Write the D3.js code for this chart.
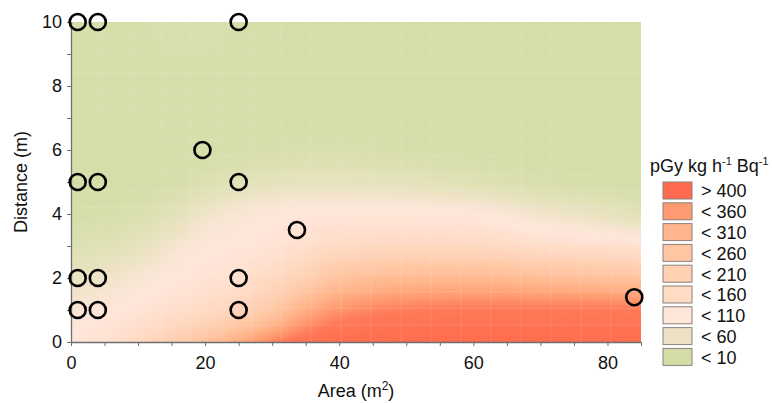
<!DOCTYPE html>
<meta charset="utf-8">
<script src="https://d3js.org/d3.v7.min.js"></script>
<style>
body { margin: 0; background: #fff; }
text { font-family: "Liberation Sans", Arial, sans-serif; fill: #111; }
</style>
<div id="chart"></div>
<script>
// measurement points (circles)
var ptArea = [1, 4, 25, 19.6, 1, 4, 25, 33.7, 1, 4, 25, 1, 4, 25, 84];
var ptDist = [10, 10, 10, 6, 5, 5, 5, 3.5, 2, 2, 2, 1, 1, 1, 1.4];

// fitted surface: one row per area value, columns = distance 0..10
var gridArea = [0, 5, 10, 15, 20, 25, 30, 35, 40, 50, 60, 70, 80, 85];
var gridDist = [0, 1, 2, 3, 4, 5, 6, 7, 8, 9, 10];
var doseGrid = [
  [110, 85, 50, 20, 6, 3, 4, 6, 6, 7, 8],
  [135, 100, 62, 28, 9, 4, 5, 6, 7, 8, 9],
  [170, 120, 82, 42, 15, 6, 5, 6, 7, 8, 9],
  [215, 145, 105, 72, 32, 9, 6, 7, 8, 9, 10],
  [265, 165, 125, 100, 65, 18, 7, 8, 8, 9, 10],
  [325, 195, 140, 112, 85, 30, 9, 7, 7, 8, 9],
  [385, 245, 170, 125, 100, 40, 10, 6, 6, 6, 7],
  [425, 320, 210, 145, 108, 45, 12, 5, 5, 5, 5],
  [448, 365, 260, 165, 112, 45, 12, 4, 4, 4, 4],
  [458, 395, 288, 175, 112, 38, 9, 3, 3, 3, 3],
  [460, 402, 293, 172, 105, 25, 6, 3, 3, 3, 3],
  [458, 402, 280, 152, 70, 12, 4, 3, 3, 3, 3],
  [455, 400, 268, 142, 45, 7, 3, 3, 3, 3, 3],
  [452, 398, 258, 132, 30, 5, 3, 3, 3, 3, 3]
];

// colour ramp
var rampValues = [0, 10, 35, 60, 85, 110, 160, 210, 260, 310, 360, 400, 460];
var rampColors = ["#d2dba4", "#d8dfac", "#e4e2ba", "#eee3c6", "#f9e5d4", "#ffe6da", "#ffdbc6",
                  "#ffd0b3", "#ffc4a0", "#ffb48a", "#ff9a70", "#ff7a58", "#ff6c4e"];

// legend
var legendLabels = ["> 400", "< 360", "< 310", "< 260", "< 210", "< 160", "< 110", "< 60", "< 10"];
var legendColors = ["#ff6a4e", "#ff9a72", "#ffb58e", "#ffc6a3", "#ffd0b2", "#ffdbc4", "#ffe6da", "#ede3c4", "#d4dda6"];

var W = 772, H = 403;
var x = d3.scaleLinear().domain([0, 85]).range([71, 641]);
var y = d3.scaleLinear().domain([0, 10]).range([342, 22]);
var color = d3.scaleLinear().domain(rampValues).range(rampColors).clamp(true);

var svg = d3.select("#chart").append("svg")
  .attr("width", W).attr("height", H);

svg.append("clipPath").attr("id", "plotclip")
  .append("rect")
  .attr("x", x(0)).attr("y", y(10))
  .attr("width", x(85) - x(0)).attr("height", y(0) - y(10));

// monotone cubic (Fritsch-Carlson) so the surface does not overshoot
function monotone(xs, ys) {
  var n = xs.length, d = [], m = [];
  for (var i = 0; i < n - 1; i++) d[i] = (ys[i + 1] - ys[i]) / (xs[i + 1] - xs[i]);
  m[0] = d[0]; m[n - 1] = d[n - 2];
  for (var i = 1; i < n - 1; i++) {
    if (d[i - 1] * d[i] <= 0) { m[i] = 0; continue; }
    var h0 = xs[i] - xs[i - 1], h1 = xs[i + 1] - xs[i];
    var w1 = 2 * h1 + h0, w2 = h1 + 2 * h0;
    m[i] = (w1 + w2) / (w1 / d[i - 1] + w2 / d[i]);
  }
  return function(v) {
    var i = d3.bisectRight(xs, v) - 1;
    if (i < 0) i = 0;
    if (i > n - 2) i = n - 2;
    var h = xs[i + 1] - xs[i], t = (v - xs[i]) / h;
    var t2 = t * t, t3 = t2 * t;
    return (2 * t3 - 3 * t2 + 1) * ys[i] + (t3 - 2 * t2 + t) * h * m[i]
         + (-2 * t3 + 3 * t2) * ys[i + 1] + (t3 - t2) * h * m[i + 1];
  };
}

// resample the grid finely
var dx = 0.5, dy = 0.05;
var nx = Math.round(85 / dx) + 1, ny = Math.round(10 / dy) + 1;
var colFine = doseGrid.map(function(col) {
  var f = monotone(gridDist, col);
  return d3.range(ny).map(function(j) { return f(j * dy); });
});
var values = new Array(nx * ny);
for (var j = 0; j < ny; j++) {
  var f = monotone(gridArea, colFine.map(function(c) { return c[j]; }));
  for (var i = 0; i < nx; i++) values[j * nx + i] = f(i * dx);
}

var thresholds = d3.range(0, 466, 3);
var contours = d3.contours().size([nx, ny]).thresholds(thresholds)(values);

var proj = d3.geoTransform({
  point: function(gx, gy) {
    this.stream.point(x((gx - 0.5) * dx), y((gy - 0.5) * dy));
  }
});

var plot = svg.append("g").attr("clip-path", "url(#plotclip)");
plot.selectAll("path.band")
  .data(contours)
  .enter().append("path")
  .attr("class", "band")
  .attr("d", d3.geoPath(proj))
  .attr("fill", function(d) { return color(d.value + 1.5); });

// faint mesh lines of the original rendering
var mesh = plot.append("g").attr("stroke", "#fff").attr("stroke-opacity", 0.16).attr("stroke-width", 0.8);
d3.range(1, 19).forEach(function(k) {
  mesh.append("line").attr("x1", x(85 * k / 19)).attr("x2", x(85 * k / 19))
    .attr("y1", y(0)).attr("y2", y(10));
  mesh.append("line").attr("x1", x(0)).attr("x2", x(85))
    .attr("y1", y(10 * k / 19)).attr("y2", y(10 * k / 19));
});

// axes
var yAxis = d3.axisLeft(y).tickValues(d3.range(0, 11, 1))
  .tickFormat(function(d) { return d % 2 === 0 ? d : ""; })
  .tickSize(4).tickSizeOuter(0).tickPadding(5);
var xAxis = d3.axisBottom(x).tickValues(d3.range(0, 86, 5))
  .tickFormat(function(d) { return d % 20 === 0 ? d : ""; })
  .tickSize(4).tickSizeOuter(0).tickPadding(10);

var gy = svg.append("g").attr("transform", "translate(" + x(0) + ",0)").call(yAxis);
var gx = svg.append("g").attr("transform", "translate(0," + y(0) + ")").call(xAxis);
[gx, gy].forEach(function(g) {
  g.attr("font-family", null).attr("font-size", null);
  g.select(".domain").attr("stroke", "#6e6e6e").attr("stroke-width", 1.3);
  g.selectAll(".tick line").attr("stroke", "#6e6e6e");
  g.selectAll(".tick text").style("font-size", "18px").attr("fill", "#111");
});

// circles
svg.append("g").selectAll("circle")
  .data(ptArea)
  .enter().append("circle")
  .attr("cx", function(d) { return x(d); })
  .attr("cy", function(d, i) { return y(ptDist[i]); })
  .attr("r", 8)
  .attr("fill", "none")
  .attr("stroke", "#000")
  .attr("stroke-width", 2.6);

// axis titles
var xt = svg.append("text").attr("x", (x(0) + x(85)) / 2).attr("y", 397)
  .attr("text-anchor", "middle").style("font-size", "18px");
xt.append("tspan").text("Area (m");
xt.append("tspan").text("2").attr("dy", -7).style("font-size", "12px");
xt.append("tspan").text(")").attr("dy", 7);

svg.append("text")
  .attr("transform", "translate(27," + ((y(0) + y(10)) / 2) + ") rotate(-90)")
  .attr("text-anchor", "middle").style("font-size", "18px")
  .text("Distance (m)");

// legend
var lt = svg.append("text").attr("x", 650).attr("y", 172).style("font-size", "18px");
lt.append("tspan").text("pGy kg h");
lt.append("tspan").text("-1").attr("dy", -7).style("font-size", "11px");
lt.append("tspan").text(" Bq").attr("dy", 7);
lt.append("tspan").text("-1").attr("dy", -7).style("font-size", "11px");

var lg = svg.append("g").selectAll("g")
  .data(legendLabels)
  .enter().append("g")
  .attr("transform", function(d, i) { return "translate(663," + (182 + i * 20.8) + ")"; });
lg.append("rect")
  .attr("width", 29).attr("height", 17)
  .attr("fill", function(d, i) { return legendColors[i]; })
  .attr("stroke", "#8c807b").attr("stroke-width", 1);
lg.append("text")
  .attr("x", 38).attr("y", 15.3)
  .style("font-size", "18px")
  .text(function(d) { return d; });
</script>
